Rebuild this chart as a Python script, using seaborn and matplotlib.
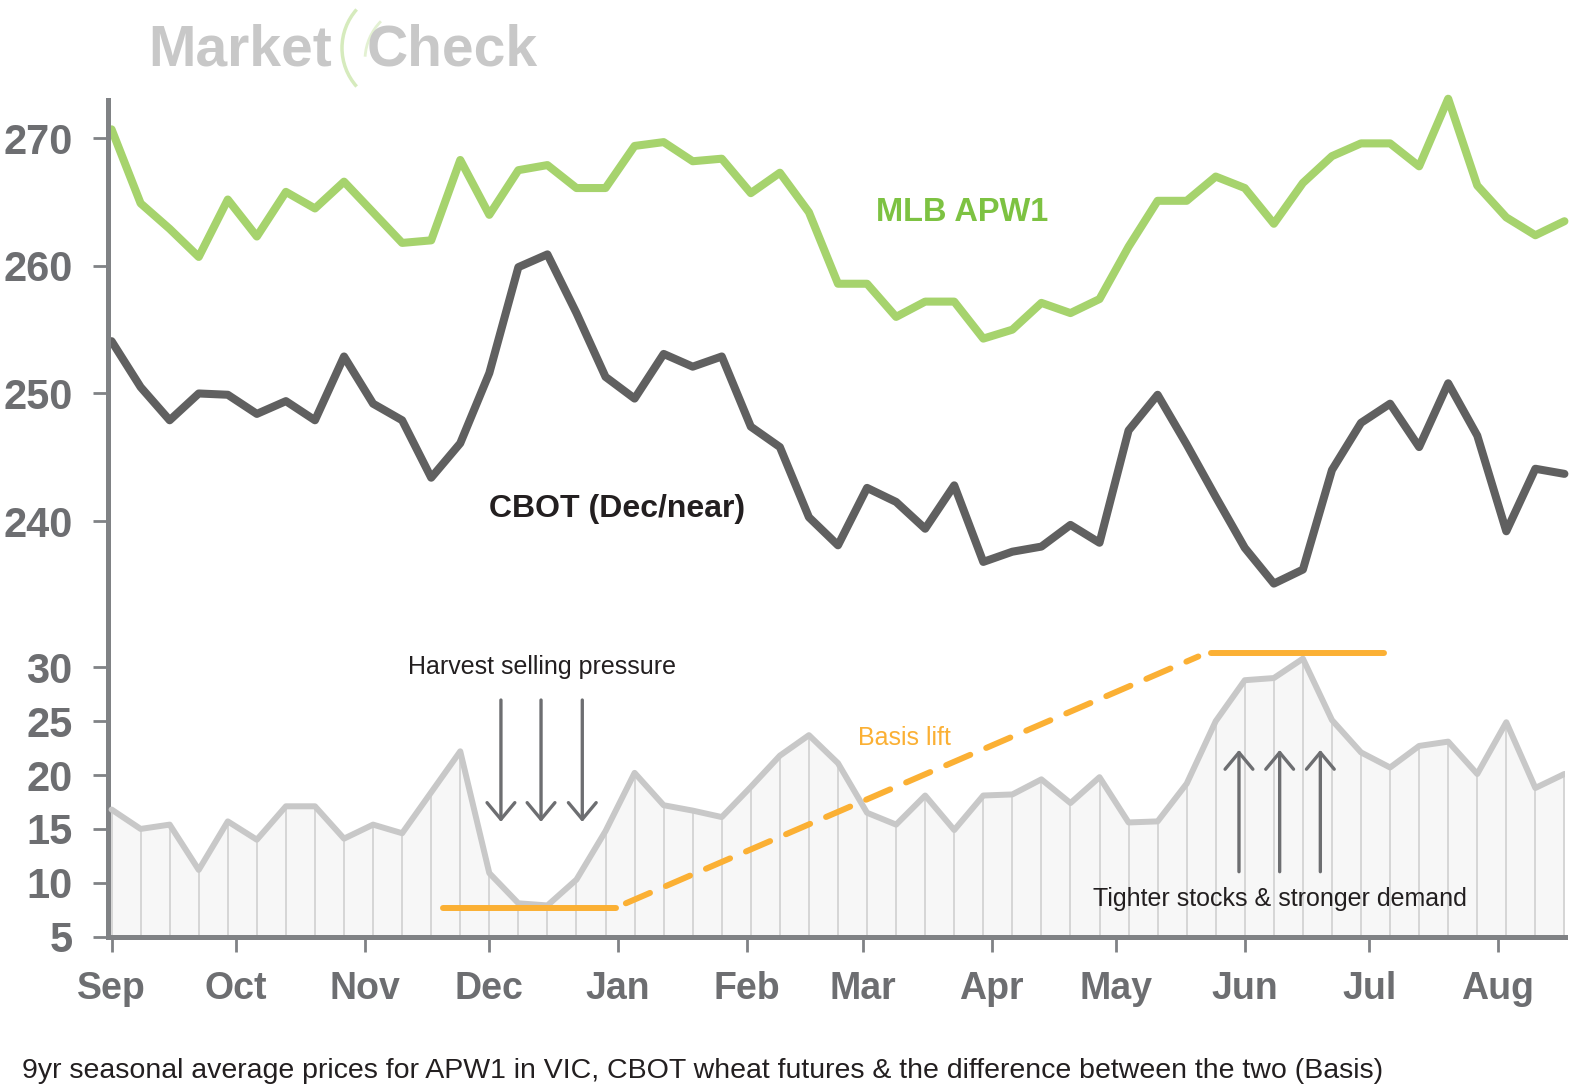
import pandas as pd
import numpy as np
import matplotlib
matplotlib.use("Agg")
import matplotlib.pyplot as plt
import matplotlib.dates as mdates
from matplotlib.patches import Arc
import seaborn as sns

# Weekly seasonal averages (9yr), week 0 = 1 Sep
weeks = pd.date_range("2022-09-01", periods=51, freq="7D")

apw1 = [270.7, 264.9, 262.9, 260.7, 265.2, 262.3, 265.8, 264.5, 266.6, 264.2,
        261.8, 262.0, 268.3, 264.0, 267.5, 267.9, 266.1, 266.1, 269.4, 269.7,
        268.2, 268.4, 265.7, 267.3, 264.2, 258.6, 258.6, 256.0, 257.2, 257.2,
        254.3, 255.0, 257.1, 256.3, 257.4, 261.5, 265.1, 265.1, 267.0, 266.1,
        263.3, 266.5, 268.6, 269.6, 269.6, 267.8, 273.1, 266.3, 263.8, 262.4, 263.5]

cbot = [254.1, 250.5, 247.9, 250.0, 249.9, 248.4, 249.4, 247.9, 252.9, 249.2,
        247.9, 243.4, 246.1, 251.6, 259.9, 260.9, 256.3, 251.3, 249.6, 253.1,
        252.1, 252.9, 247.4, 245.8, 240.3, 238.1, 242.6, 241.5, 239.4, 242.8,
        236.8, 237.6, 238.0, 239.7, 238.3, 247.1, 249.9, 246.0, 241.9, 237.9,
        235.1, 236.2, 244.0, 247.7, 249.2, 245.8, 250.8, 246.7, 239.2, 244.1, 243.7]

basis = [16.8, 15.0, 15.4, 11.2, 15.7, 14.0, 17.1, 17.1, 14.1, 15.4,
         14.6, 18.4, 22.2, 10.9, 8.1, 7.9, 10.3, 14.8, 20.2, 17.2,
         16.7, 16.1, 18.9, 21.8, 23.7, 21.1, 16.5, 15.4, 18.1, 14.9,
         18.1, 18.2, 19.6, 17.4, 19.8, 15.6, 15.7, 19.2, 25.0, 28.8,
         29.0, 30.8, 25.1, 22.1, 20.7, 22.7, 23.1, 20.1, 24.9, 18.8, 20.1]

month_labels = ["Sep", "Oct", "Nov", "Dec", "Jan", "Feb", "Mar", "Apr", "May", "Jun", "Jul", "Aug"]
month_starts = pd.date_range("2022-09-01", periods=12, freq="MS")
price_ticks = [240, 250, 260, 270]
basis_ticks = [5, 10, 15, 20, 25, 30]

# basis annotation (levels and spans in weeks)
basis_low, basis_high = 7.7, 31.3
low_span = [11.4, 17.35]
high_span = [37.85, 43.8]
ramp_weeks = [17.7, 37.4]
ramp_levels = [8.1, 31.0]

df = pd.DataFrame({"date": weeks, "apw1": apw1, "cbot": cbot, "basis": basis})

sns.set_style("white")
plt.rcParams["font.family"] = ["Liberation Sans", "DejaVu Sans"]

green = "#a6d36d"
green_txt = "#7dc242"
dark = "#606060"
grey_axis = "#808285"
grey_txt = "#6d6e71"
orange = "#fbb034"

W, H = 1569, 1089
fig = plt.figure(figsize=(W / 100, H / 100), dpi=100)
left = 107.5 / W
width = (1565 - 107.5) / W
ax_top = fig.add_axes([left, 1 - 640 / H, width, (640 - 100) / H])
ax_bot = fig.add_axes([left, 1 - 936.7 / H, width, (936.7 - 640) / H])


def wk(i):
    return mdates.date2num(weeks[0]) + 7 * i


# --- top: prices ---
sns.lineplot(data=df, x="date", y="apw1", ax=ax_top, color=green, linewidth=5.8,
             clip_on=False, solid_joinstyle="round", solid_capstyle="round")
sns.lineplot(data=df, x="date", y="cbot", ax=ax_top, color=dark, linewidth=5.8,
             clip_on=False, solid_joinstyle="round", solid_capstyle="round")
ax_top.set_ylim(230.68, 273.0)

ax_top.text(wk(29.27), 264.15, "MLB APW1", color=green_txt, fontsize=23.5,
            fontweight="bold", ha="center", va="center")
ax_top.text(wk(17.39), 240.95, "CBOT (Dec/near)", color="#231f20", fontsize=23,
            fontweight="bold", ha="center", va="center")

# --- bottom: basis ---
ax_bot.fill_between(df["date"], 5, df["basis"], color="#f7f7f7", zorder=1, lw=0)
ax_bot.vlines(df["date"], 5, df["basis"], color="#d6d6d6", lw=1.4, zorder=2)
sns.lineplot(data=df, x="date", y="basis", ax=ax_bot, color="#c8c8c8", linewidth=4.3,
             zorder=3, solid_joinstyle="round")
ax_bot.set_ylim(5, 32.53)

ax_bot.plot([wk(low_span[0]), wk(low_span[1])], [basis_low, basis_low], color=orange,
            lw=4.3, solid_capstyle="round", zorder=4)
ax_bot.plot([wk(high_span[0]), wk(high_span[1])], [basis_high, basis_high], color=orange,
            lw=4.3, solid_capstyle="round", zorder=4, clip_on=False)
ax_bot.plot([wk(w) for w in ramp_weeks], ramp_levels, color=orange, lw=4.3,
            dashes=(4.4, 2.9), dash_capstyle="round", zorder=4)

arrow = dict(arrowstyle="->,head_length=0.6,head_width=0.5", color=grey_txt,
             lw=2.4, mutation_scale=20, shrinkA=0, shrinkB=0)
for w in [13.4, 14.78, 16.2]:
    ax_bot.annotate("", xy=(wk(w), 15.65), xytext=(wk(w), 26.96), arrowprops=arrow, zorder=5)
for w in [38.8, 40.2, 41.6]:
    ax_bot.annotate("", xy=(wk(w), 22.33), xytext=(wk(w), 11.03), arrowprops=arrow, zorder=5)

ax_bot.text(wk(14.8), 30.0, "Harvest selling pressure", fontsize=18,
            color="#231f20", ha="center", va="center")
ax_bot.text(wk(27.27), 23.4, "Basis lift", fontsize=18,
            color=orange, ha="center", va="center")
ax_bot.text(wk(40.2), 8.5, "Tighter stocks & stronger demand", fontsize=18,
            color="#231f20", ha="center", va="center", zorder=6)

# --- axes styling ---
xlim = (wk(-0.14), wk(50.02))
for ax in (ax_top, ax_bot):
    ax.set_xlim(*xlim)
    ax.set_xlabel("")
    ax.set_ylabel("")
    ax.set_facecolor("none")
    for s in ["top", "right", "bottom"]:
        ax.spines[s].set_visible(False)
    ax.spines["left"].set_color(grey_axis)
    ax.spines["left"].set_linewidth(3.6)
    ax.tick_params(axis="y", length=11, width=2, color=grey_axis, pad=14, left=True)

ax_bot.spines["bottom"].set_visible(True)
ax_bot.spines["bottom"].set_color(grey_axis)
ax_bot.spines["bottom"].set_linewidth(3.6)

ax_top.set_yticks(price_ticks, labels=[str(t) for t in price_ticks], fontsize=30,
                  fontweight="bold", color=grey_txt)
ax_bot.set_yticks(basis_ticks, labels=[str(t) for t in basis_ticks], fontsize=30,
                  fontweight="bold", color=grey_txt)
ax_top.tick_params(axis="x", bottom=False, labelbottom=False)
ax_bot.set_xticks(mdates.date2num(month_starts), labels=month_labels, fontsize=27,
                  fontweight="bold", color=grey_txt)
ax_bot.tick_params(axis="x", length=11, width=2, color=grey_axis, pad=14, bottom=True)

# --- logo and caption ---
fig.text(148 / W, 1 - 50 / H, "Market", fontsize=41, fontweight="bold", color="#c8c8c8",
         ha="left", va="center")
fig.text(367 / W, 1 - 50 / H, "Check", fontsize=41, fontweight="bold", color="#c8c8c8",
         ha="left", va="center")
fig.add_artist(Arc((400 / W, 1 - 48 / H), 116 / W, 116 / H, theta1=128, theta2=232,
                   transform=fig.transFigure, color="#d6ebbd", lw=2.5))
fig.add_artist(Arc((420 / W, 1 - 60 / H), 110 / W, 110 / H, theta1=125, theta2=175,
                   transform=fig.transFigure, color="#e3f1d2", lw=2))

fig.text(22 / W, 1 - 1071 / H,
         "9yr seasonal average prices for APW1 in VIC, CBOT wheat futures & the difference between the two (Basis)",
         fontsize=20.5, color="#231f20", ha="left", va="center")

fig.savefig("out.png", dpi=100, facecolor="white")
